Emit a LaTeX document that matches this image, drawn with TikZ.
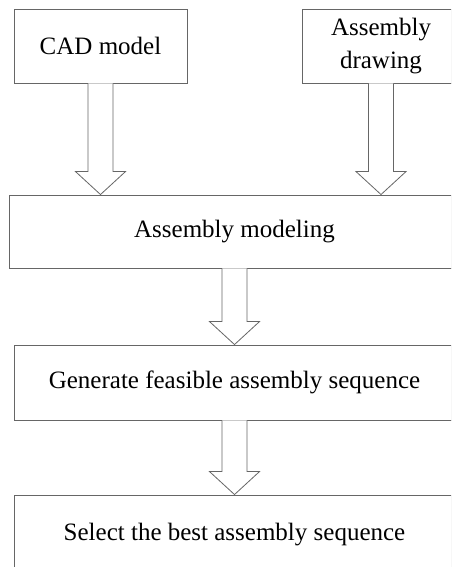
\documentclass[tikz,border=0pt]{standalone}
\usepackage{fontspec}
\setmainfont{Liberation Serif}
\usetikzlibrary{calc,shadows}

% hollow block arrow from the bottom of one box to the top of the next
\newcommand{\hollowarrow}[2]{%
  \draw[blockarrow] ($(#1.south)+(-12.5,0)$) -- ($(#1.south |- #2.north)+(-12.5,23)$)
    -- ($(#1.south |- #2.north)+(-25,23)$) -- (#1.south |- #2.north)
    -- ($(#1.south |- #2.north)+(25,23)$) -- ($(#1.south |- #2.north)+(12.5,23)$)
    -- ($(#1.south)+(12.5,0)$);
}

\begin{document}
\begin{tikzpicture}[
        x=1pt,y=1pt,
        stepbox/.style={rectangle,draw=black!60,line width=0.9pt,fill=white,
          inner sep=0pt,align=center,
          font=\fontsize{25}{33}\selectfont,
          drop shadow={shadow xshift=1.2pt,shadow yshift=-1.2pt,fill=black!30,opacity=1}},
        blockarrow/.style={draw=black!60,line width=0.8pt,fill=white},
        ]
        \useasboundingbox (0,0) rectangle (451,-567);
        \clip (0,0) rectangle (451,-567);
        \node [stepbox,minimum width=173,minimum height=74] (cad) at (100.5,-46) {CAD model};
        \node [stepbox,minimum width=158,minimum height=74] (drawing) at (381,-46) {Assembly\\drawing};
        \node [stepbox,minimum width=451,minimum height=73] (model) at (234.5,-231.5) {Assembly modeling};
        \node [stepbox,minimum width=441,minimum height=75] (generate) at (234.5,-382.5) {Generate feasible assembly sequence};
        \node [stepbox,minimum width=441,minimum height=80] (select) at (234.5,-535) {Select the best assembly sequence};
        \hollowarrow{cad}{model}
        \hollowarrow{drawing}{model}
        \hollowarrow{model}{generate}
        \hollowarrow{generate}{select}
\end{tikzpicture}
\end{document}
